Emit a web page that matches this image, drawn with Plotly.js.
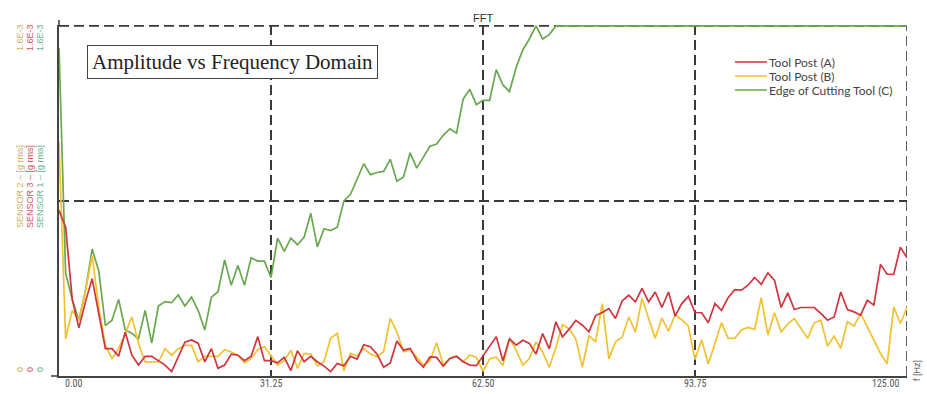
<!DOCTYPE html>
<html><head><meta charset="utf-8">
<script src="https://cdn.plot.ly/plotly-3.0.1.min.js"></script>
<style>html,body{margin:0;padding:0;background:#fff;} #chart{width:927px;height:394px;}</style>
</head><body><div id="chart"></div><script>
// Frequency resolution of the FFT bins (Hz) and axis ticks
const FREQ_STEP_HZ = 125 / 128;
const xTickVals = [0, 31.25, 62.5, 93.75, 125];
const xTickText = ['0.00', '31.25', '62.50', '93.75', '125.00'];
const yGridVals = [0.8, 1.6];           // in units of 1E-3 g rms
const yMaxLabel = '1.6E-3';
const yMinLabel = '0';

const seriesNames = ['Tool Post (A)', 'Tool Post (B)', 'Edge of Cutting Tool (C)'];
const sensorLabels = ['SENSOR 2 \u2013 [g rms]', 'SENSOR 3 \u2013 [g rms]', 'SENSOR 1 \u2013 [g rms]'];

// Amplitudes (x1E-3 g rms), one value per FFT bin from 0 to 125 Hz
const toolPostA = [
  0.757, 0.68, 0.35, 0.22, 0.34, 0.445, 0.285, 0.125, 0.125, 0.09,
  0.20, 0.095, 0.05, 0.09, 0.09, 0.07, 0.05, 0.02, 0.09, 0.155,
  0.165, 0.15, 0.065, 0.125, 0.035, 0.05, 0.10, 0.095, 0.07, 0.09,
  0.18, 0.07, 0.07, 0.06, 0.085, 0.025, 0.115, 0.065, 0.09, 0.065,
  0.045, 0.02, 0.057, 0.047, 0.09, 0.077, 0.143, 0.134, 0.10, 0.04,
  0.06, 0.16, 0.118, 0.126, 0.072, 0.04, 0.087, 0.085, 0.045, 0.08,
  0.09, 0.065, 0.05, 0.047, 0.092, 0.138, 0.18, 0.07, 0.17, 0.141,
  0.163, 0.149, 0.10, 0.194, 0.124, 0.248, 0.179, 0.214, 0.254, 0.232,
  0.202, 0.276, 0.29, 0.308, 0.263, 0.343, 0.369, 0.339, 0.40, 0.339,
  0.384, 0.313, 0.384, 0.274, 0.331, 0.364, 0.29, 0.289, 0.243, 0.331,
  0.30, 0.358, 0.395, 0.392, 0.415, 0.45, 0.419, 0.471, 0.437, 0.313,
  0.38, 0.304, 0.313, 0.313, 0.313, 0.286, 0.255, 0.27, 0.384, 0.304,
  0.293, 0.278, 0.346, 0.324, 0.51, 0.465, 0.465, 0.589, 0.54
];
const toolPostB = [
  1.07, 0.17, 0.30, 0.255, 0.39, 0.55, 0.315, 0.14, 0.08, 0.125,
  0.195, 0.27, 0.15, 0.065, 0.065, 0.065, 0.125, 0.095, 0.125, 0.14,
  0.14, 0.065, 0.09, 0.09, 0.09, 0.12, 0.11, 0.095, 0.06, 0.08,
  0.12, 0.135, 0.09, 0.05, 0.07, 0.118, 0.035, 0.103, 0.10, 0.046,
  0.065, 0.172, 0.195, 0.024, 0.103, 0.091, 0.126, 0.10, 0.088, 0.111,
  0.263, 0.202, 0.111, 0.118, 0.088, 0.05, 0.07, 0.152, 0.05, 0.08,
  0.091, 0.065, 0.096, 0.085, 0.022, 0.078, 0.087, 0.048, 0.172, 0.118,
  0.05, 0.08, 0.156, 0.11, 0.04, 0.13, 0.235, 0.215, 0.17, 0.04,
  0.185, 0.156, 0.331, 0.078, 0.156, 0.177, 0.27, 0.20, 0.354, 0.263,
  0.172, 0.265, 0.205, 0.28, 0.257, 0.228, 0.075, 0.166, 0.055, 0.149,
  0.243, 0.172, 0.172, 0.21, 0.222, 0.213, 0.358, 0.187, 0.289, 0.202,
  0.237, 0.263, 0.217, 0.172, 0.243, 0.255, 0.137, 0.182, 0.126, 0.248,
  0.228, 0.286, 0.225, 0.164, 0.103, 0.055, 0.316, 0.24, 0.313
];
const edgeC = [
  1.50, 0.47, 0.35, 0.255, 0.39, 0.58, 0.48, 0.23, 0.255, 0.35,
  0.21, 0.195, 0.17, 0.30, 0.15, 0.32, 0.34, 0.335, 0.37, 0.32,
  0.36, 0.30, 0.21, 0.36, 0.385, 0.53, 0.415, 0.505, 0.415, 0.54,
  0.525, 0.525, 0.45, 0.63, 0.57, 0.63, 0.60, 0.635, 0.744, 0.59,
  0.673, 0.665, 0.68, 0.80, 0.83, 0.90, 0.97, 0.92, 0.93, 0.935,
  0.99, 0.89, 0.91, 1.02, 0.95, 1.00, 1.05, 1.06, 1.10, 1.13,
  1.11, 1.265, 1.31, 1.24, 1.26, 1.26, 1.40, 1.33, 1.30, 1.41,
  1.49, 1.54, 1.60, 1.54, 1.56, 1.60, 1.60, 1.60, 1.60, 1.60,
  1.60, 1.60, 1.60, 1.60, 1.60, 1.60, 1.60, 1.60, 1.60, 1.60,
  1.60, 1.60, 1.60, 1.60, 1.60, 1.60, 1.60, 1.60, 1.60, 1.60,
  1.60, 1.60, 1.60, 1.60, 1.60, 1.60, 1.60, 1.60, 1.60, 1.60,
  1.60, 1.60, 1.60, 1.60, 1.60, 1.60, 1.60, 1.60, 1.60, 1.60,
  1.60, 1.60, 1.60, 1.60, 1.60, 1.60, 1.60, 1.60, 1.60
];

const lineColors = ['#d0343e', '#f0c232', '#6aa84f'];
const sensorColors = ['#c8ad62', '#d4505c', '#62b28e'];

// ---- geometry helpers (pixel -> paper) ----
const W = 927, H = 394, ML = 59, MR = 20, MT = 25, MB = 18;
const PW = W - ML - MR, PH = H - MT - MB;
const px = x => (x - ML) / PW;
const py = y => (H - MB - y) / PH;

const traces = [
  {y: edgeC, color: lineColors[2], name: seriesNames[2]},
  {y: toolPostB, color: lineColors[1], name: seriesNames[1]},
  {y: toolPostA, color: lineColors[0], name: seriesNames[0]}
].map(s => ({
  type: 'scatter', mode: 'lines', name: s.name, x0: 0, dx: FREQ_STEP_HZ, y: s.y,
  line: {color: s.color, width: 1.7}, showlegend: false, hoverinfo: 'skip'
}));

const gridColor = '#3a3a3a';
const gridDash = '10px,5px';
const annotations = [];
const shapes = [];

// edge gridlines (top at max value, right at last tick) drawn below data
shapes.push({type: 'line', xref: 'x', yref: 'y', layer: 'below', x0: xTickVals[0], x1: xTickVals[xTickVals.length - 1],
  y0: yGridVals[1], y1: yGridVals[1], line: {color: gridColor, width: 1.6, dash: gridDash}});
shapes.push({type: 'line', xref: 'x', yref: 'paper', layer: 'below', x0: xTickVals[xTickVals.length - 1], x1: xTickVals[xTickVals.length - 1],
  y0: 0, y1: 1, line: {color: gridColor, width: 1.6, dash: gridDash}});

// chart title
annotations.push({text: 'FFT', xref: 'paper', yref: 'paper', x: 0.5, y: py(18), showarrow: false,
  xanchor: 'center', yanchor: 'middle', font: {family: 'Liberation Sans, Arial', size: 11, color: '#333'}});

// boxed caption
annotations.push({text: 'Amplitude vs Frequency Domain', xref: 'paper', yref: 'paper', x: px(232.5), y: py(62.5),
  showarrow: false, xanchor: 'center', yanchor: 'middle', bgcolor: '#fff', bordercolor: '#444', borderwidth: 1, borderpad: 4,
  font: {family: 'Liberation Serif, Times New Roman, serif', size: 21, color: '#222'}});

// x tick labels
xTickVals.forEach((v, i) => {
  const first = i === 0, last = i === xTickVals.length - 1;
  annotations.push({text: xTickText[i], xref: 'x', yref: 'paper', x: v, y: py(383),
    xshift: first ? 4 : (last ? -6 : 0),
    xanchor: first ? 'left' : (last ? 'right' : 'center'), yanchor: 'middle', showarrow: false,
    font: {family: 'Liberation Sans Narrow, Roboto Condensed, Liberation Sans, Arial', size: 10, color: '#555'}});
});

// f [Hz]
annotations.push({text: 'f [Hz]', xref: 'paper', yref: 'paper', x: px(917), y: py(371), textangle: -90,
  showarrow: false, xanchor: 'center', yanchor: 'middle', font: {family: 'Liberation Sans, Arial', size: 9, color: '#555'}});

// left rotated sensor labels
const colX = [20, 30, 40];
sensorLabels.forEach((lab, i) => {
  const f = {family: 'Liberation Sans, Arial', size: 9, color: sensorColors[i]};
  annotations.push({text: lab, xref: 'paper', yref: 'paper', x: px(colX[i]), y: py(187), textangle: -90, showarrow: false, xanchor: 'center', yanchor: 'middle', font: f});
  annotations.push({text: yMaxLabel, xref: 'paper', yref: 'paper', x: px(colX[i]), y: py(38), textangle: -90, showarrow: false, xanchor: 'center', yanchor: 'middle', font: f});
  annotations.push({text: yMinLabel, xref: 'paper', yref: 'paper', x: px(colX[i]), y: py(370), textangle: -90, showarrow: false, xanchor: 'center', yanchor: 'middle', font: f});
});

// custom legend
const legRows = [62, 76, 90];
seriesNames.forEach((n, i) => {
  shapes.push({type: 'line', xref: 'paper', yref: 'paper', x0: px(735), x1: px(767), y0: py(legRows[i]), y1: py(legRows[i]),
    line: {color: lineColors[i], width: 1.5}});
  annotations.push({text: n, xref: 'paper', yref: 'paper', x: px(767), y: py(legRows[i]), showarrow: false,
    xanchor: 'left', yanchor: 'middle', font: {family: 'Lato, Carlito, Open Sans, sans-serif', size: 12, color: '#444'}});
});

// small axis extensions at origin and top
shapes.push({type: 'line', xref: 'paper', yref: 'paper', x0: px(51), x1: px(59), y0: 0, y1: 0, line: {color: '#444', width: 1.6}});
shapes.push({type: 'line', xref: 'paper', yref: 'paper', x0: 0, x1: 0, y0: 1, y1: py(20), line: {color: '#444', width: 1.6}});

const layout = {
  width: W, height: H,
  margin: {l: ML, r: MR, t: MT, b: MB, pad: 0},
  paper_bgcolor: '#fff', plot_bgcolor: '#fff',
  showlegend: false,
  xaxis: {range: [0, 125], tickvals: xTickVals.slice(1), showticklabels: false, ticks: '',
    showgrid: true, gridcolor: gridColor, gridwidth: 1.6, griddash: gridDash,
    showline: true, linecolor: '#444', linewidth: 1.6, zeroline: false, fixedrange: true},
  yaxis: {range: [0, 1.604], tickvals: yGridVals, showticklabels: false, ticks: '',
    showgrid: true, gridcolor: gridColor, gridwidth: 1.6, griddash: gridDash,
    showline: true, linecolor: '#444', linewidth: 1.6, zeroline: false, fixedrange: true},
  annotations: annotations,
  shapes: shapes
};

Plotly.newPlot('chart', traces, layout, {displayModeBar: false, staticPlot: true});
</script></body></html>
